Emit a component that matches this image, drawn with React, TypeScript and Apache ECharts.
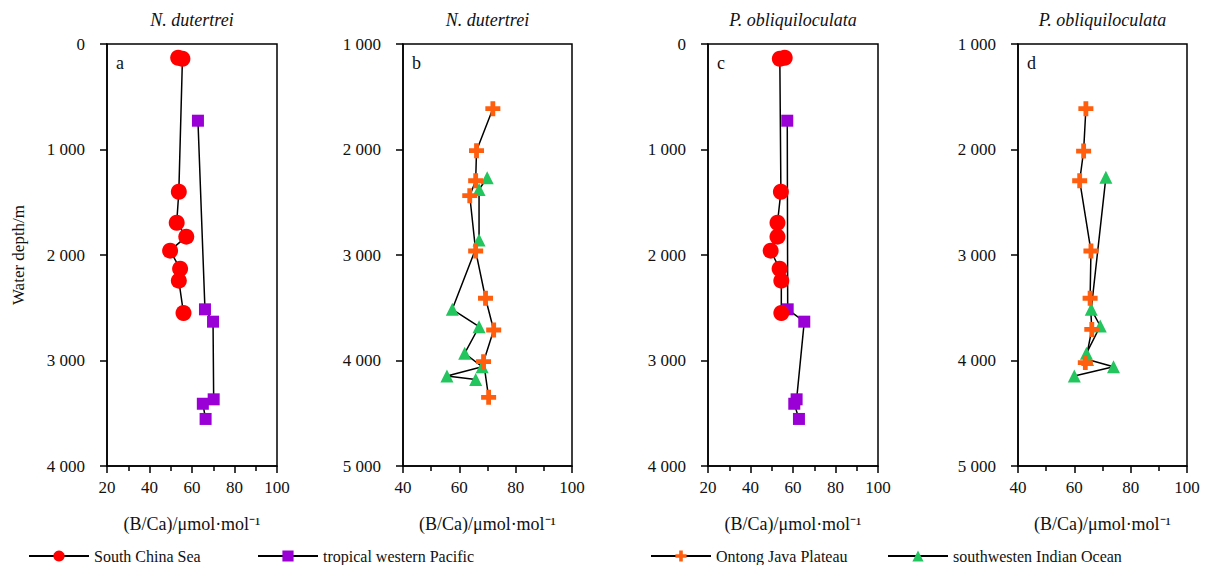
import React, { useEffect, useRef } from "react";
import * as echarts from "echarts";

// ---- data ----
const scsDepth = [130, 140, 1400, 1694, 1826, 1959, 2130, 2243, 2550];
const scsNd = [53.5, 55.5, 53.8, 52.8, 57.3, 49.7, 54.4, 53.8, 56.0];
const scsPo = [56.1, 53.8, 54.3, 52.7, 52.7, 49.5, 53.7, 54.5, 54.5];

const twpDepth = [727, 2515, 2632, 3368, 3410, 3554];
const twpNd = [62.8, 66.1, 69.9, 70.2, 65.1, 66.4];
const twpPo = [57.3, 57.5, 65.3, 61.7, 60.6, 62.8];

const ojpNdDepth = [1613, 2011, 2296, 2438, 2962, 3410, 3711, 4011, 4349];
const ojpNd = [71.9, 66.1, 65.8, 63.7, 65.8, 69.3, 72.2, 68.6, 70.4];
const ojpPoDepth = [1613, 2015, 2296, 2962, 3410, 3705, 4020];
const ojpPo = [64.1, 63.3, 61.9, 65.9, 65.6, 66.2, 63.9];

const swioNdDepth = [2267, 2379, 2858, 3515, 3680, 3932, 4059, 4147, 4179];
const swioNd = [69.9, 67.0, 67.0, 57.5, 67.0, 61.9, 68.1, 55.6, 65.8];
const swioPoDepth = [2264, 3515, 3673, 3932, 3990, 4059, 4147];
const swioPo = [71.2, 66.0, 69.2, 64.3, 64.7, 73.9, 60.0];

const panelTitles = ["N. dutertrei", "N. dutertrei", "P. obliquiloculata", "P. obliquiloculata"];
const panelLetters = ["a", "b", "c", "d"];
const xMins = [20, 40, 20, 40];
const yMins = [0, 1000, 0, 1000];
const seriesNames = ["South China Sea", "tropical western Pacific", "Ontong Java Plateau", "southwesten Indian Ocean"];

const FONT = "Liberation Serif";
const CROSS = "path://M3.4,0H6.6V3.4H10V6.6H6.6V10H3.4V6.6H0V3.4H3.4Z";

const zip = (xs: number[], ys: number[]) => xs.map((x, i) => [x, ys[i]]);

export default function App() {
  const ref = useRef<HTMLDivElement>(null);
  useEffect(() => {
    if (!ref.current) return;
    const chart = echarts.init(ref.current, null, { renderer: "svg" });
    const lefts = [107, 403, 708, 1018];
    const widths = [170, 169, 170, 169];
    const top = 44;
    const height = 422;

    const grids = lefts.map((l, i) => ({
      left: l,
      top,
      width: widths[i],
      height,
      show: true,
      borderColor: "#000",
      borderWidth: 1.5,
      backgroundColor: "transparent",
    }));

    const xAxes = xMins.map((mn, i) => ({
      type: "value",
      gridIndex: i,
      min: mn,
      max: 100,
      interval: 20,
      name: "(B/Ca)/μmol·mol⁻¹",
      nameLocation: "middle",
      nameGap: 49,
      nameTextStyle: { fontFamily: FONT, fontSize: 18, color: "#111" },
      axisLine: { show: true, onZero: false, lineStyle: { color: "#000", width: 1.5 } },
      axisTick: { show: true, inside: false, length: 7, lineStyle: { color: "#000", width: 1.5 } },
      minorTick: { show: true, splitNumber: 2, length: 5, lineStyle: { color: "#000", width: 1.5 } },
      splitLine: { show: false },
      axisLabel: { fontFamily: FONT, fontSize: 17, color: "#111", margin: 13 },
    }));

    const yAxes = yMins.map((mn, i) => ({
      type: "value",
      gridIndex: i,
      min: mn,
      max: mn + 4000,
      interval: 1000,
      inverse: true,
      name: i === 0 ? "Water depth/m" : "",
      nameLocation: "middle",
      nameGap: 80,
      nameTextStyle: { fontFamily: FONT, fontSize: 17, color: "#111" },
      axisLine: { show: true, onZero: false, lineStyle: { color: "#000", width: 1.5 } },
      axisTick: { show: true, inside: false, length: 7, lineStyle: { color: "#000", width: 1.5 } },
      splitLine: { show: false },
      axisLabel: {
        fontFamily: FONT,
        fontSize: 17,
        color: "#111",
        margin: 22,
        formatter: (v: number) => (v >= 1000 ? `${Math.floor(v / 1000)} ${String(v % 1000).padStart(3, "0")}` : String(v)),
      },
    }));

    const lineStyle = { color: "#000", width: 1.5 };
    const mk = (name: string, idx: number, data: number[][], symbol: string, size: number, color: string) => ({
      name,
      type: "line",
      xAxisIndex: idx,
      yAxisIndex: idx,
      data,
      symbol,
      symbolSize: size,
      showAllSymbol: true,
      itemStyle: { color },
      lineStyle,
      emphasis: { disabled: true },
    });

    const RED = "#ff0000";
    const PURPLE = "#9a00d6";
    const ORANGE = "#ff5e0e";
    const GREEN = "#22c55e";

    const series = [
      mk(seriesNames[1], 0, zip(twpNd, twpDepth), "rect", 12, PURPLE),
      mk(seriesNames[0], 0, zip(scsNd, scsDepth), "circle", 16, RED),
      mk(seriesNames[3], 1, zip(swioNd, swioNdDepth), "triangle", 13, GREEN),
      mk(seriesNames[2], 1, zip(ojpNd, ojpNdDepth), CROSS, 15, ORANGE),
      mk(seriesNames[1], 2, zip(twpPo, twpDepth), "rect", 12, PURPLE),
      mk(seriesNames[0], 2, zip(scsPo, scsDepth), "circle", 16, RED),
      mk(seriesNames[3], 3, zip(swioPo, swioPoDepth), "triangle", 13, GREEN),
      mk(seriesNames[2], 3, zip(ojpPo, ojpPoDepth), CROSS, 15, ORANGE),
    ];

    const legendLefts = [28, 257, 650, 887];
    const legends = seriesNames.map((n, i) => ({
      data: [n],
      left: legendLefts[i],
      top: 548,
      itemWidth: 60,
      itemHeight: 14,
      padding: 0,
      selectedMode: false,
      textStyle: { fontFamily: FONT, fontSize: 16, color: "#111" },
    }));

    const graphics: any[] = [];
    lefts.forEach((l, i) => {
      graphics.push({
        type: "text",
        x: l + widths[i] / 2,
        y: 20,
        style: {
          text: panelTitles[i],
          fontFamily: FONT,
          fontStyle: "italic",
          fontSize: 18,
          fill: "#111",
          textAlign: "center",
          textVerticalAlign: "middle",
        },
      });
      graphics.push({
        type: "text",
        x: l + 9,
        y: 63,
        style: {
          text: panelLetters[i],
          fontFamily: FONT,
          fontSize: 18,
          fill: "#111",
          textAlign: "left",
          textVerticalAlign: "middle",
        },
      });
    });

    chart.setOption({
      animation: false,
      backgroundColor: "#fff",
      grid: grids,
      xAxis: xAxes,
      yAxis: yAxes,
      series,
      legend: legends,
      graphic: graphics,
    });
    return () => chart.dispose();
  }, []);
  return <div ref={ref} style={{ position: "fixed", left: 0, top: 0, width: 1215, height: 565 }} />;
}
